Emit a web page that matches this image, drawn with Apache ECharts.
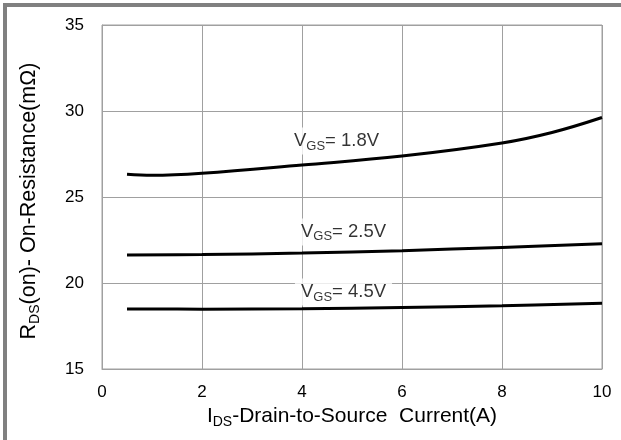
<!DOCTYPE html>
<html>
<head>
<meta charset="utf-8">
<script src="https://cdn.jsdelivr.net/npm/echarts@6/dist/echarts.min.js"></script>
<style>
html,body{margin:0;padding:0;background:#fff;}
#c{width:621px;height:440px;}
</style>
</head>
<body>
<div id="c"></div>
<script>
// Data
var x18 = [0.5, 1, 2, 4, 6, 8, 9, 10];
var y18 = [26.32, 26.26, 26.38, 26.86, 27.38, 28.14, 28.75, 29.62];
var x25 = [0.5, 2, 4, 6, 8, 10];
var y25 = [21.63, 21.66, 21.74, 21.88, 22.07, 22.28];
var x45 = [0.5, 2, 4, 6, 8, 10];
var y45 = [18.49, 18.48, 18.50, 18.58, 18.68, 18.82];
var labelNames = ['1.8V', '2.5V', '4.5V'];
var labelX = [4.69, 4.83, 4.83];
var labelY = [28.26, 22.97, 19.48];
var xTicks = [0, 2, 4, 6, 8, 10];
var yTicks = [15, 20, 25, 30, 35];

function pairs(xs, ys) { return xs.map(function (v, i) { return [v, ys[i]]; }); }

var FONT = '"Liberation Sans", Arial, sans-serif';
var chart = echarts.init(document.getElementById('c'), null, {renderer: 'canvas'});

var lineStyle = {color: '#000', width: 3};
function curve(name, data) {
  return {
    name: name, type: 'line', smooth: 0.4, showSymbol: false, symbol: 'none',
    data: data, lineStyle: lineStyle, itemStyle: {color: '#000'}, z: 3, silent: true
  };
}

var labelData = labelNames.map(function (n, i) { return [labelX[i], labelY[i], n]; });

function titleRich(size, sub) {
  return {
    m: {fontSize: size, color: '#000', fontFamily: FONT, lineHeight: size + 5, verticalAlign: 'middle'},
    s: {fontSize: sub, color: '#000', fontFamily: FONT, verticalAlign: 'bottom', lineHeight: sub + 2}
  };
}

chart.setOption({
  animation: false,
  backgroundColor: '#fff',
  textStyle: {fontFamily: FONT},
  grid: {left: 102, right: 19, top: 25, bottom: 71, show: true, borderColor: '#a0a0a0', borderWidth: 1},
  xAxis: {
    type: 'value', min: xTicks[0], max: xTicks[xTicks.length - 1], interval: 2,
    axisLine: {show: true, lineStyle: {color: '#a0a0a0'}},
    axisTick: {show: false},
    splitLine: {show: true, lineStyle: {color: '#a0a0a0', width: 1}},
    axisLabel: {color: '#000', fontSize: 17, fontFamily: FONT, margin: 15},
    name: '{m|I}{s|DS}{m|-Drain-to-Source  Current(A)}',
    nameLocation: 'middle', nameGap: 29,
    nameTextStyle: {fontFamily: FONT, rich: titleRich(21, 14)}
  },
  yAxis: {
    type: 'value', min: yTicks[0], max: yTicks[yTicks.length - 1], interval: 5,
    axisLine: {show: true, lineStyle: {color: '#a0a0a0'}},
    axisTick: {show: false},
    splitLine: {show: true, lineStyle: {color: '#a0a0a0', width: 1}},
    axisLabel: {color: '#000', fontSize: 17, fontFamily: FONT, margin: 18},
    name: '{m|R}{s|DS}{m|(on)- On-Resistance(mΩ)}',
    nameLocation: 'middle', nameGap: 60, nameRotate: 90,
    nameTextStyle: {fontFamily: FONT, padding: [0, 8, 0, 0], rich: titleRich(21.5, 14)}
  },
  graphic: [
    {type: 'rect', shape: {x: 3, y: 3, width: 618, height: 4}, style: {fill: '#808080'}, silent: true},
    {type: 'rect', shape: {x: 3, y: 3, width: 4, height: 437}, style: {fill: '#808080'}, silent: true}
  ],
  series: [
    curve('VGS=1.8V', pairs(x18, y18)),
    curve('VGS=2.5V', pairs(x25, y25)),
    curve('VGS=4.5V', pairs(x45, y45)),
    {
      type: 'scatter', symbolSize: 0, data: labelData, z: 4, silent: true,
      label: {
        show: true, position: 'inside',
        formatter: function (p) { return '{m|V}{s|GS}{m|= ' + p.data[2] + '}'; },
        backgroundColor: '#fff', padding: [2, 6, 2, 6],
        rich: {
          m: {fontSize: 18.5, color: '#000', fontFamily: FONT, lineHeight: 23, verticalAlign: 'middle'},
          s: {fontSize: 13, color: '#000', fontFamily: FONT, verticalAlign: 'bottom', lineHeight: 15}
        }
      }
    }
  ]
});
</script>
</body>
</html>
